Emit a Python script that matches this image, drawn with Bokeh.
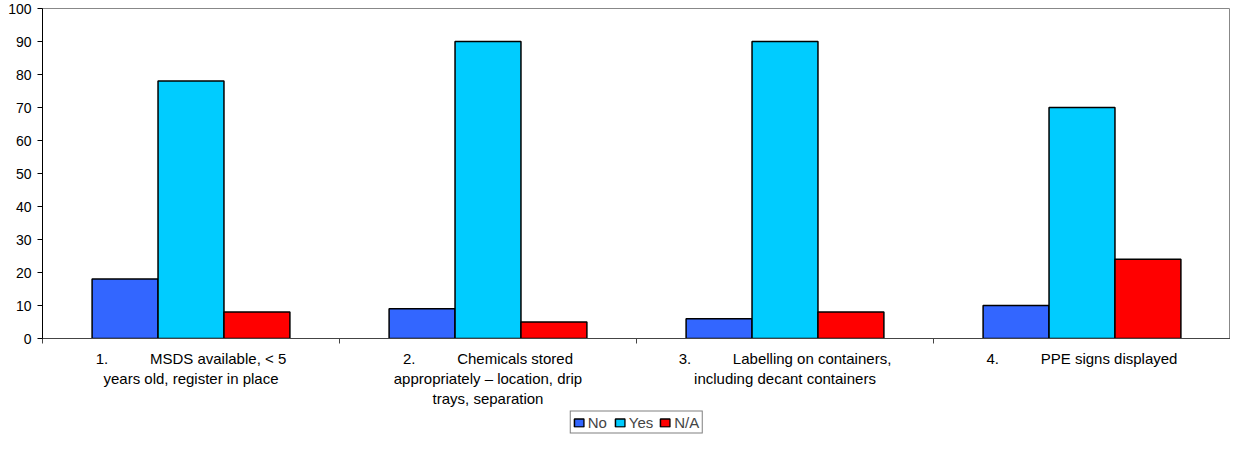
from bokeh.plotting import figure
from bokeh.models import FixedTicker, Legend, LegendItem, Range1d, ColumnDataSource
from bokeh.layouts import column
from bokeh.transform import dodge
from bokeh.embed import file_html
from bokeh.resources import INLINE

SP = "\u00a0" * 10
categories = [
    "1." + SP + "MSDS available, < 5\nyears old, register in place",
    "2." + SP + "Chemicals stored\nappropriately \u2013 location, drip\ntrays, separation",
    "3." + SP + "Labelling on containers,\nincluding decant containers",
    "4." + SP + "PPE signs displayed",
]
series = ["No", "Yes", "N/A"]
no_vals = [18, 9, 6, 10]
yes_vals = [78, 90, 90, 70]
na_vals = [8, 5, 8, 24]
colors = ["#3366FF", "#00CCFF", "#FF0000"]
y_ticks = list(range(0, 101, 10))

centers = [i + 0.5 for i in range(len(categories))]
src = ColumnDataSource(dict(x=centers, No=no_vals, Yes=yes_vals, NA=na_vals))

p = figure(width=1230, height=410, x_range=Range1d(0, len(categories)), y_range=Range1d(0, 100),
           output_backend="svg", toolbar_location=None,
           min_border_left=42, min_border_top=8, min_border_right=0, min_border_bottom=0)

bw = 0.222
fields = ["No", "Yes", "NA"]
offsets = [-bw, 0, bw]
for f, off, c in zip(fields, offsets, colors):
    p.vbar(x=dodge("x", off, range=p.x_range), top=f, width=bw, bottom=0, source=src,
           fill_color=c, line_color="black", line_width=1.5)

p.xgrid.visible = False
p.ygrid.visible = False
p.outline_line_color = "#888888"
p.background_fill_color = "white"

# y axis
p.yaxis.ticker = FixedTicker(ticks=y_ticks)
p.yaxis.axis_line_color = "black"
p.yaxis.major_tick_out = 5
p.yaxis.major_tick_in = 0
p.yaxis.minor_tick_line_color = None
p.yaxis.major_label_text_font = "Liberation Sans"
p.yaxis.major_label_text_font_size = "14px"
p.yaxis.major_label_text_color = "black"
p.yaxis.major_label_standoff = 6

# x axis
p.xaxis.ticker = FixedTicker(ticks=centers, minor_ticks=list(range(len(categories) + 1)))
p.xaxis.major_label_overrides = {c: lab for c, lab in zip(centers, categories)}
p.xaxis.axis_line_color = "#444444"
p.xaxis.major_tick_line_color = None
p.xaxis.major_tick_out = 0
p.xaxis.major_tick_in = 0
p.xaxis.minor_tick_line_color = "#444444"
p.xaxis.minor_tick_out = 5
p.xaxis.minor_tick_in = 0
p.xaxis.major_label_text_font = "Liberation Sans"
p.xaxis.major_label_text_font_size = "15px"
p.xaxis.major_label_text_color = "black"
p.xaxis.major_label_standoff = 6

# legend strip (separate small figure below the chart; its renderers are hidden)
lf = figure(width=1230, height=24, x_range=Range1d(0, len(categories)), y_range=Range1d(0, 100),
            output_backend="svg", toolbar_location=None,
            min_border_left=42, min_border_top=0, min_border_right=0, min_border_bottom=0)
lf.axis.visible = False
lf.grid.visible = False
lf.outline_line_color = None
items = []
for f, c, name in zip(fields, colors, series):
    r = lf.vbar(x="x", top=f, width=bw, bottom=0, source=src,
                fill_color=c, line_color="black", line_width=1.5)
    r.visible = False
    items.append(LegendItem(label=name, renderers=[r]))
legend = Legend(items=items, orientation="horizontal", location="center",
                border_line_color="black", border_line_width=1,
                label_text_font="Liberation Sans", label_text_font_size="15px",
                glyph_width=12, glyph_height=10, spacing=6, padding=2,
                label_standoff=3, margin=0, label_height=14,
                inactive_fill_alpha=0.0)
lf.add_layout(legend, "center")

layout = column(p, lf, spacing=0)
open("out.html", "w").write(file_html(layout, INLINE))
